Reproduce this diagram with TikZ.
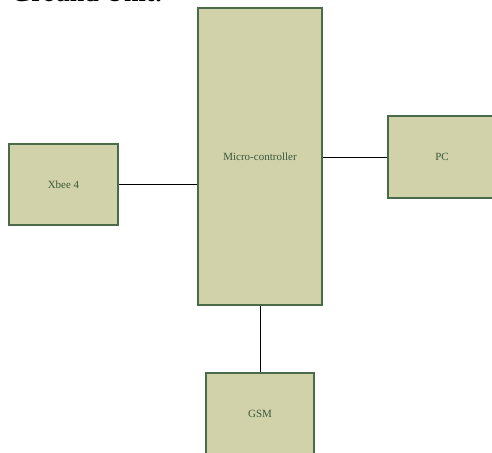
\documentclass[tikz,border=0pt]{standalone}
\usepackage{fontspec}
\setmainfont{Liberation Serif}
\definecolor{boxfill}{HTML}{D1D1AA}
\definecolor{boxline}{HTML}{4A6B4A}
\definecolor{boxtext}{HTML}{3A5A3C}
\begin{document}
\begin{tikzpicture}[x=1pt,y=-1pt,
  block/.style={draw=boxline,fill=boxfill,line width=1.2pt,inner sep=0pt,
    font=\fontsize{11}{13}\selectfont,text=boxtext},
  link/.style={draw=black,line width=0.8pt}]
\useasboundingbox (0,0) rectangle (492,452);
\clip (0,0) rectangle (492,452);
\node[anchor=base west,font=\bfseries\fontsize{26}{30}\selectfont,inner sep=0pt] (title) at (11,1.5) {Ground Unit:};
\node[block,minimum width=124pt,minimum height=297pt] (mc) at (260,156.5) {Micro-controller};
\node[block,minimum width=109pt,minimum height=81pt] (xbee) at (63.5,184.5) {Xbee 4};
\node[block,minimum width=110pt,minimum height=82pt] (pc) at (443,157) {};
\node[text=boxtext,font=\fontsize{11}{13}\selectfont] (pclabel) at (442,157) {PC};
\node[block,minimum width=108pt,minimum height=94pt] (gsm) at (260,420) {};
\node[text=boxtext,font=\fontsize{11}{13}\selectfont] (gsmlabel) at (260,414) {GSM};
\draw[link] (xbee.east) -- (xbee.east -| mc.west);
\draw[link] (pc.west -| mc.east) -- (pc.west);
\draw[link] (mc.south) -- (gsm.north);
\end{tikzpicture}
\end{document}
